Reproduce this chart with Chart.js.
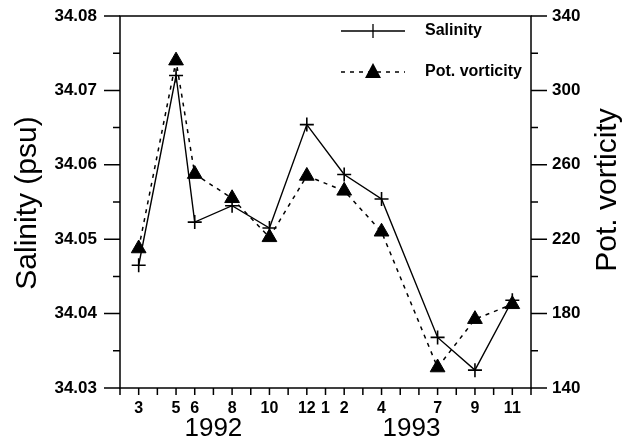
<!DOCTYPE html>
<html>
<head>
<meta charset="utf-8">
<script src="https://cdn.jsdelivr.net/npm/chart.js@4/dist/chart.umd.min.js"></script>
<style>
  html, body { margin: 0; padding: 0; background: #fff; }
  canvas { display: block; }
</style>
</head>
<body>
<canvas id="chart" width="624" height="441"></canvas>
<script>
// months counted from Feb 1992 (0) to Dec 1993 (22)
const sampleMonths = [1, 3, 4, 6, 8, 10, 12, 14, 17, 19, 21];
const salinity = [34.0465, 34.0720, 34.0523, 34.0545, 34.0515, 34.0654, 34.0587, 34.0554, 34.0368, 34.0324, 34.0418];
const vorticity = [215, 316, 255, 242, 221, 254, 246, 224, 151, 177, 185];

const monthTickPos = [1, 3, 4, 6, 8, 10, 11, 12, 14, 17, 19, 21];
const monthTickLabels = ['3', '5', '6', '8', '10', '12', '1', '2', '4', '7', '9', '11'];
const yearLabels = ['1992', '1993'];
const yearLabelPos = [5.0, 15.6];

const FONT = 'Arial, "Liberation Sans", Helvetica, sans-serif';
const INK = '#000';

const toPoints = (ys) => sampleMonths.map((m, i) => ({ x: m, y: ys[i] }));

// no extra room for the end tick labels: the plot box is fixed
const fixY = (w) => (s) => { s.width = w; s.paddingTop = 0; s.paddingBottom = 0; };

// frame, tick marks, year labels, titles and legend
const decorations = {
  id: 'decorations',
  afterDraw(chart) {
    const { ctx, chartArea: a, scales } = chart;
    const x = scales.x, yl = scales.ySal, yr = scales.yPv;
    ctx.save();
    ctx.strokeStyle = INK;
    ctx.fillStyle = INK;
    ctx.lineWidth = 1.5;
    ctx.strokeRect(a.left, a.top, a.right - a.left, a.bottom - a.top);

    ctx.beginPath();
    for (let m = 0; m <= 22; m++) {
      const px = x.getPixelForValue(m);
      ctx.moveTo(px, a.bottom);
      ctx.lineTo(px, a.bottom + 7);
    }
    for (let k = 0; k <= 10; k++) {
      const py = yl.getPixelForValue(34.03 + k * 0.005);
      ctx.moveTo(a.left, py);
      ctx.lineTo(a.left - (k % 2 === 0 ? 16 : 7), py);
    }
    for (let k = 0; k <= 10; k++) {
      const py = yr.getPixelForValue(140 + k * 20);
      ctx.moveTo(a.right, py);
      ctx.lineTo(a.right + (k % 2 === 0 ? 16 : 7), py);
    }
    ctx.stroke();

    // years under the month labels
    ctx.font = '26px ' + FONT;
    ctx.textAlign = 'center';
    ctx.textBaseline = 'middle';
    yearLabels.forEach((t, i) => ctx.fillText(t, x.getPixelForValue(yearLabelPos[i]), 429));

    // axis titles, both reading bottom to top
    ctx.font = '30px ' + FONT;
    [[28, 203, 'Salinity (psu)'], [608, 190, 'Pot. vorticity']].forEach(([cx, cy, t]) => {
      ctx.save();
      ctx.translate(cx, cy);
      ctx.rotate(-Math.PI / 2);
      ctx.fillText(t, 0, 0);
      ctx.restore();
    });

    // legend
    ctx.font = 'bold 16px ' + FONT;
    ctx.textAlign = 'left';
    const lx0 = 341, lx1 = 405, mx = 373;
    ctx.lineWidth = 1.3;
    ctx.beginPath();
    ctx.moveTo(lx0, 31); ctx.lineTo(lx1, 31);
    ctx.moveTo(mx - 7, 31); ctx.lineTo(mx + 7, 31);
    ctx.moveTo(mx, 24); ctx.lineTo(mx, 38);
    ctx.stroke();
    ctx.fillText('Salinity', 425, 31);

    ctx.setLineDash([4, 5]);
    ctx.beginPath();
    ctx.moveTo(lx0, 72); ctx.lineTo(lx1, 72);
    ctx.stroke();
    ctx.setLineDash([]);
    ctx.beginPath();
    ctx.moveTo(mx, 63); ctx.lineTo(mx + 8, 78); ctx.lineTo(mx - 8, 78);
    ctx.closePath();
    ctx.fill();
    ctx.fillText('Pot. vorticity', 425, 72);
    ctx.restore();
  }
};

new Chart(document.getElementById('chart'), {
  type: 'line',
  data: {
    datasets: [
      {
        label: 'Pot. vorticity',
        data: toPoints(vorticity),
        yAxisID: 'yPv',
        borderColor: INK,
        borderWidth: 1.5,
        borderDash: [4, 5],
        pointStyle: 'triangle',
        pointRadius: 8.5,
        pointBackgroundColor: INK,
        pointBorderColor: INK,
        pointBorderWidth: 1,
        tension: 0
      },
      {
        label: 'Salinity',
        data: toPoints(salinity),
        yAxisID: 'ySal',
        borderColor: INK,
        borderWidth: 1.4,
        pointStyle: 'cross',
        pointRadius: 7,
        pointBorderColor: INK,
        pointBorderWidth: 1.6,
        tension: 0
      }
    ]
  },
  options: {
    responsive: false,
    animation: false,
    layout: { padding: { top: 16, left: 0, right: 0, bottom: 0 } },
    plugins: { legend: { display: false }, tooltip: { enabled: false } },
    scales: {
      x: {
        type: 'linear',
        min: 0,
        max: 22,
        grid: { display: false, drawTicks: false },
        border: { display: false },
        afterFit: (s) => { s.height = 53; s.paddingLeft = 0; s.paddingRight = 0; },
        afterBuildTicks: (s) => { s.ticks = monthTickPos.map(v => ({ value: v })); },
        ticks: {
          autoSkip: false,
          maxRotation: 0,
          padding: 11,
          color: INK,
          font: { family: FONT, size: 16, weight: 'bold' },
          callback: (v) => monthTickLabels[monthTickPos.indexOf(v)]
        }
      },
      ySal: {
        type: 'linear',
        position: 'left',
        min: 34.03,
        max: 34.08,
        grid: { display: false, drawTicks: false },
        border: { display: false },
        afterFit: fixY(120),
        ticks: {
          stepSize: 0.01,
          padding: 23,
          color: INK,
          font: { family: FONT, size: 17, weight: 'bold' },
          callback: (v) => v.toFixed(2)
        }
      },
      yPv: {
        type: 'linear',
        position: 'right',
        min: 140,
        max: 340,
        grid: { display: false, drawTicks: false },
        border: { display: false },
        afterFit: fixY(93),
        ticks: {
          stepSize: 40,
          padding: 21,
          color: INK,
          font: { family: FONT, size: 17, weight: 'bold' }
        }
      }
    }
  },
  plugins: [decorations]
});
</script>
</body>
</html>
